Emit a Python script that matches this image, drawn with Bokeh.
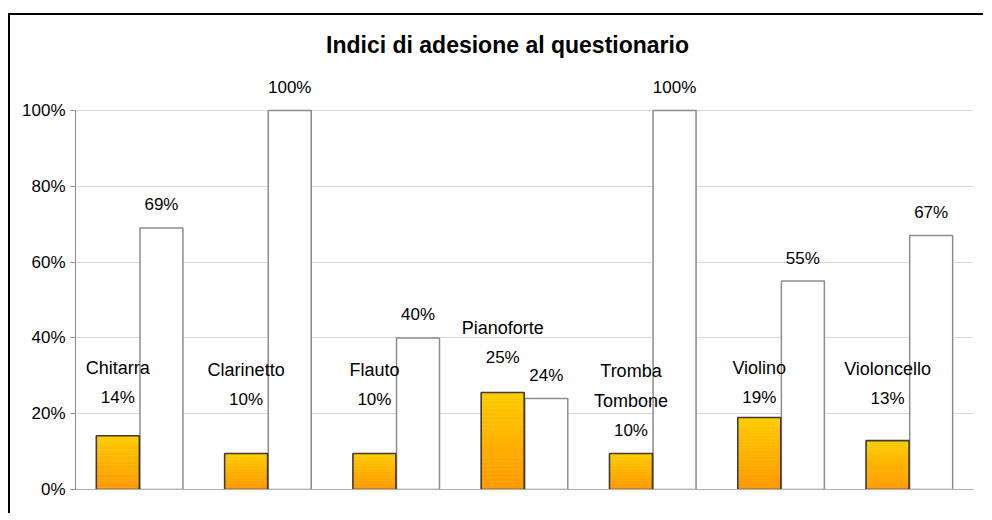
from bokeh.plotting import figure
from bokeh.models import (ColumnDataSource, FactorRange, Range1d, FixedTicker, Label)
from bokeh.transform import dodge
from bokeh.core.properties import value
from bokeh.embed import file_html
from bokeh.resources import INLINE

# ---------------- data ----------------
chart_title = "Indici di adesione al questionario"
categories = ["Chitarra", "Clarinetto", "Flauto", "Pianoforte",
              "Tromba Tombone", "Violino", "Violoncello"]
adesione = [0.142, 0.095, 0.095, 0.256, 0.095, 0.19, 0.129]
adesione_labels = ["14%", "10%", "10%", "25%", "10%", "19%", "13%"]
totale = [0.69, 1.00, 0.40, 0.24, 1.00, 0.55, 0.67]
totale_labels = ["69%", "100%", "40%", "24%", "100%", "55%", "67%"]
y_ticks = [0, 0.2, 0.4, 0.6, 0.8, 1.0]
y_tick_labels = ["0%", "20%", "40%", "60%", "80%", "100%"]

# ---------------- layout / style ----------------
label_anchor_y = [0.2435, 0.2375, 0.2375, 0.349, 0.156, 0.2435, 0.239]
line_step_px = 29.5
FONT = "Liberation Sans"
YELLOW = (255, 204, 0)
ORANGE = (255, 153, 0)
N_BANDS = 24
BAR_W = 0.335
OFF = 0.17

p = figure(width=975, height=500, output_backend="svg", toolbar_location=None,
           x_range=FactorRange(*categories, range_padding=0),
           y_range=Range1d(0, 1.2507),
           min_border_left=65, min_border_right=12, min_border_top=0,
           min_border_bottom=26, title=None,
           styles={"margin-left": "8px", "margin-top": "13px",
                   "border-left": "2px solid #000", "border-top": "2px solid #000"})
p.outline_line_color = None
p.background_fill_color = "white"
p.border_fill_color = "white"

# grid
p.xgrid.grid_line_color = None
p.ygrid.ticker = FixedTicker(ticks=y_ticks)
p.ygrid.grid_line_color = "#d9d9d9"
p.ygrid.grid_line_width = 1

# y axis
yax = p.yaxis[0]
yax.ticker = FixedTicker(ticks=y_ticks)
yax.major_label_overrides = {t: l for t, l in zip(y_ticks, y_tick_labels)}
yax.bounds = (0, 1)
yax.axis_line_color = "#8c8c8c"
yax.major_tick_line_color = "#8c8c8c"
yax.major_tick_out = 5
yax.major_tick_in = 0
yax.minor_tick_line_color = None
yax.major_label_text_font = FONT
yax.major_label_text_font_size = "17px"
yax.major_label_text_color = "black"
yax.major_label_standoff = 5

# x axis (baseline only)
xax = p.xaxis[0]
xax.axis_line_color = "#b0b0b0"
xax.major_tick_line_color = None
xax.minor_tick_line_color = None
xax.major_label_text_font_size = "0px"
xax.major_label_text_color = None

# white (total) bars
src_t = ColumnDataSource(dict(cat=categories, top=totale, lab=totale_labels))
p.vbar(x=dodge("cat", OFF, range=p.x_range), top="top", bottom=0, width=BAR_W,
       source=src_t, fill_color="white", line_color="#8c8c8c", line_width=1.5)

# orange gradient bars
bx, bb, bt, bc = [], [], [], []
for c, v in zip(categories, adesione):
    for i in range(N_BANDS):
        f = (i + 0.5) / N_BANDS
        col = tuple(int(round(ORANGE[k] + (YELLOW[k] - ORANGE[k]) * f)) for k in range(3))
        bx.append(c)
        bb.append(v * i / N_BANDS)
        bt.append(v * (i + 1) / N_BANDS)
        bc.append("#%02x%02x%02x" % col)
src_g = ColumnDataSource(dict(cat=bx, bottom=bb, top=bt, color=bc))
p.vbar(x=dodge("cat", -OFF, range=p.x_range), top="top", bottom="bottom",
       width=BAR_W, source=src_g, fill_color="color", line_color="color",
       line_width=0.6)
src_a = ColumnDataSource(dict(cat=categories, top=adesione))
p.vbar(x=dodge("cat", -OFF, range=p.x_range), top="top", bottom=0, width=BAR_W,
       source=src_a, fill_color=None, line_color="#3c3c3c", line_width=1.6)

# labels for white bars
p.text(x=dodge("cat", OFF, range=p.x_range), y="top", text="lab", source=src_t,
       text_align="center", text_baseline="middle", y_offset=-23,
       text_font=value(FONT), text_font_size="17px", text_color="black")

# labels for orange bars (name lines + percent)
lx, ly, lt, lo, ls = [], [], [], [], []
for c, lab, ay in zip(categories, adesione_labels, label_anchor_y):
    lines = c.split(" ") + [lab]
    n = len(lines)
    for j, t in enumerate(lines):
        lx.append(c)
        ly.append(ay)
        lt.append(t)
        lo.append(-(n - 1 - j) * line_step_px)
        ls.append("17px" if j == n - 1 else "18px")
src_l = ColumnDataSource(dict(cat=lx, y=ly, text=lt, off=lo, fs=ls))
p.text(x=dodge("cat", -OFF, range=p.x_range), y="y", text="text", y_offset="off",
       source=src_l, text_align="center", text_baseline="middle",
       text_font=value(FONT), text_font_size="fs", text_color="black")

# title (x in pixels from the plot frame's left edge)
p.add_layout(Label(x=432, y=1.174, x_units="screen", y_units="data",
                   text=chart_title, text_align="center", text_baseline="middle",
                   text_font=FONT, text_font_style="bold", text_font_size="23px",
                   text_color="black"))

open("out.html", "w").write(file_html(p, INLINE))
